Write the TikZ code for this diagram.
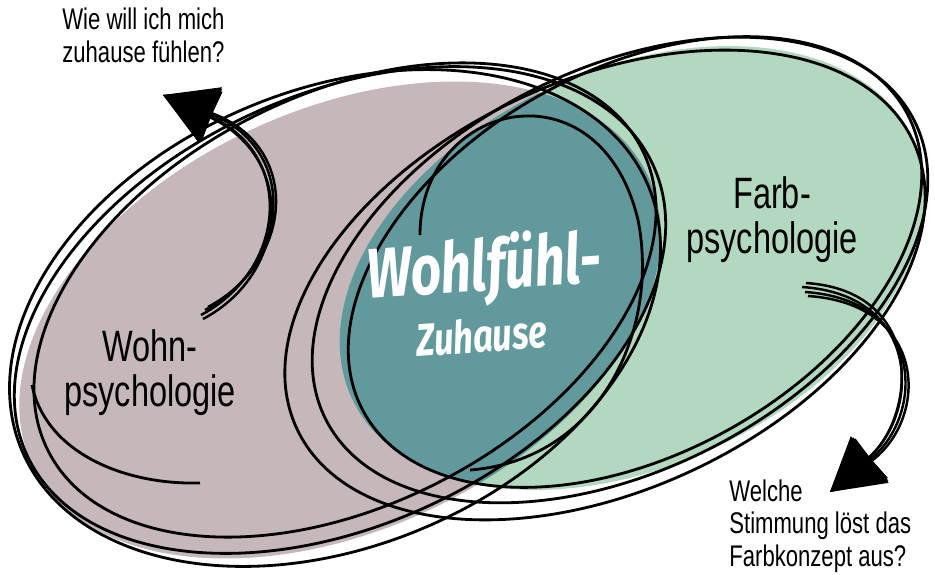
\documentclass[tikz,border=0pt]{standalone}
\usepackage{fontspec}
\setmainfont{Liberation Sans}[FakeStretch=0.74]
\newfontfamily\brushfont{Fira Sans}[FakeStretch=0.76]
\usepackage{tikz}
\usetikzlibrary{calc,arrows.meta,positioning}
\definecolor{wohnmauve}{HTML}{C5B7BA}
\definecolor{farbgreen}{HTML}{B2D9BF}
\definecolor{wohlteal}{HTML}{62999C}
\tikzset{
    outline/.style={
    draw=black,line width=1.6pt
    },
    sketcharrow/.style={
    draw=black,line width=1.4pt,-{Triangle[length=1.05cm,width=1.1cm]}
    },
    question/.style={
    font=\fontsize{17}{18.5}\selectfont,align=left,inner sep=0pt
    },
    psylabel/.style={
    font=\fontsize{25}{25.5}\selectfont,align=center,inner sep=0pt
    },
    brush/.style={
    text=white,inner sep=0pt,font=\brushfont\bfseries\itshape\fontsize{40}{42}\selectfont
    },
    brushsmall/.style={
    text=white,inner sep=0pt,font=\brushfont\bfseries\itshape\fontsize{26}{27}\selectfont
    },
}

\begin{document}
\begin{tikzpicture}[x=0.02cm, y=-0.02cm, node distance=1.3cm, on grid]
   \useasboundingbox (0,0) rectangle (935,574);

   % the two fields and their overlap
   \fill[wohnmauve, rotate around={25:(340,320)}] (340,320) ellipse [x radius=340, y radius=210];
   \fill[farbgreen, rotate around={25:(632,268)}] (632,268) ellipse [x radius=309, y radius=198];
   \begin{scope}
     \clip[rotate around={25:(340,320)}] (340,320) ellipse [x radius=340, y radius=210];
     \fill[wohlteal, rotate around={25:(632,268)}] (632,268) ellipse [x radius=309, y radius=198];
   \end{scope}

   % sketchy outlines
   \draw[outline, rotate around={25:(340,310)}] (340,310) ellipse [x radius=345, y radius=215];
   \draw[outline, rotate around={23:(335,318)}] (335,318) ellipse [x radius=340, y radius=228];
   \draw[outline, rotate around={27:(345,300)}] (345,300) ellipse [x radius=333, y radius=205];
   \draw[outline, rotate around={27:(620,270)}] (620,270) ellipse [x radius=330, y radius=200];
   \draw[outline, rotate around={25:(605,285)}] (605,285) ellipse [x radius=340, y radius=205];
   \draw[outline, rotate around={29:(635,262)}] (635,262) ellipse [x radius=310, y radius=192];
   \draw[outline] (200,483) .. controls (120,485) and (45,450) .. (32,385);
   \draw[outline] (420,235) .. controls (420,100) and (600,60) .. (638,220)
                  .. controls (660,330) and (600,460) .. (470,470);

   % labels
   \node[question, anchor=north west] (wieq) at (62,8) {Wie will ich mich\\zuhause fühlen?};
   \node[psylabel] (wohn) at (150,373) {Wohn-\\psychologie};
   \node[psylabel] (farb) at (772,220) {Farb-\\psychologie};
   \node[brush, rotate=4] (wohlf) at (484,270) {Wohlfühl-};
   \node[brushsmall, rotate=4] (zuh) [below=of wohlf, xshift=-0.05cm] {Zuhause};
   \node[question, anchor=north west] (welche) at (729,479) {Welche\\Stimmung löst das\\Farbkonzept aus?};

   % arrows
   \coordinate (wohnstart) at (205,310);
   \coordinate (wohntip) at (163,95);
   \coordinate (farbstart) at (805,292);
   \coordinate (farbtip) at (830,492);
   \foreach \dx/\dy in {0/0,-4/5,3/-3,-2/9}
     \draw[sketcharrow] ($(wohnstart)+(\dx,\dy)$) .. controls +(85,-45) and +(137+\dx,55+\dy) .. (wohntip);
   \foreach \dx/\dy in {0/0,-3/-5,3/4,1/-9}
     \draw[sketcharrow] ($(farbstart)+(\dx,\dy)$) .. controls +(120,8) and +(95+\dy,-77+\dx) .. (farbtip);
\end{tikzpicture}
\end{document}
